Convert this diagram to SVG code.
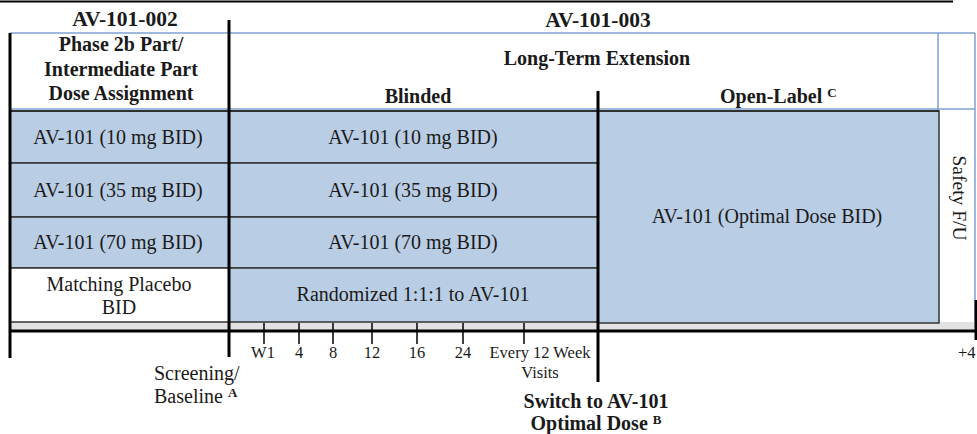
<svg xmlns="http://www.w3.org/2000/svg" width="977" height="434" viewBox="0 0 977 434">
<style>
text{font-family:"Liberation Serif","Times New Roman",serif;fill:#1a1a1a}
.b{font-weight:bold}
.c{text-anchor:middle}
.cell{fill:#b9cde4;stroke:#333;stroke-width:1.5}
.wcell{fill:#fff;stroke:#333;stroke-width:1.5}
.blue{stroke:#7fa2d0;stroke-width:1.5;fill:none}
.thick{stroke:#000;stroke-width:3}
.tick{stroke:#000;stroke-width:1.5}
.sup{font-size:13px}
.row{font-size:20px}
.hd{font-size:20px}
.ax{font-size:16.5px}
</style>
<rect width="977" height="434" fill="#fff"/>

<g id="headers">
  <line x1="0" y1="1.5" x2="953" y2="1.5" stroke="#000" stroke-width="2"/>
  <text class="b c" x="125" y="26" font-size="21.5">AV-101-002</text>
  <text class="b c" x="598" y="27" font-size="21.5">AV-101-003</text>
</g>

<g id="header-frame">
  <line class="blue" x1="10" y1="33" x2="975" y2="33"/>
  <line class="blue" x1="938" y1="33" x2="938" y2="330"/>
  <line class="blue" x1="975" y1="33" x2="975" y2="330"/>
  <line class="blue" x1="10" y1="109" x2="975" y2="109"/>
</g>

<g id="phase-header">
  <text class="b c hd" x="121" y="51">Phase 2b Part/</text>
  <text class="b c hd" x="121" y="76">Intermediate Part</text>
  <text class="b c hd" x="121" y="100">Dose Assignment</text>
</g>
<g id="lte-header">
  <text class="b c hd" x="597" y="65">Long-Term Extension</text>
</g>
<g id="blinded-header">
  <text class="b c hd" x="418" y="103">Blinded</text>
</g>
<g id="openlabel-header">
  <text class="b hd" x="720" y="103">Open-Label <tspan class="sup" dy="-6">C</tspan></text>
</g>

<g id="shadow">
  <rect x="10" y="322" width="965" height="8" fill="#e2e2e2"/>
</g>

<g id="p10"><rect class="cell" x="10" y="111" width="219" height="52"/><text class="c row" x="118" y="144">AV-101 (10 mg BID)</text></g>
<g id="p35"><rect class="cell" x="10" y="163" width="219" height="54"/><text class="c row" x="118" y="197">AV-101 (35 mg BID)</text></g>
<g id="p70"><rect class="cell" x="10" y="217" width="219" height="51"/><text class="c row" x="118" y="249">AV-101 (70 mg BID)</text></g>
<g id="pplacebo"><rect class="wcell" x="10" y="268" width="219" height="54"/><text class="c row" x="119" y="291">Matching Placebo</text><text class="c row" x="119" y="314">BID</text></g>

<g id="b10"><rect class="cell" x="229" y="111" width="369" height="52"/><text class="c row" x="413" y="144">AV-101 (10 mg BID)</text></g>
<g id="b35"><rect class="cell" x="229" y="163" width="369" height="54"/><text class="c row" x="413" y="197">AV-101 (35 mg BID)</text></g>
<g id="b70"><rect class="cell" x="229" y="217" width="369" height="51"/><text class="c row" x="413" y="249">AV-101 (70 mg BID)</text></g>
<g id="brand"><rect class="cell" x="229" y="268" width="369" height="54"/><text class="c row" x="413" y="301">Randomized 1:1:1 to AV-101</text></g>

<g id="optimal"><rect class="cell" x="598" y="111" width="341" height="212"/><text class="c row" x="767" y="223">AV-101 (Optimal Dose BID)</text></g>

<g id="safety"><text class="c" font-size="19.5" transform="translate(953 198) rotate(90)">Safety F/U</text></g>

<g id="lines">
  <line x1="10" y1="111" x2="939" y2="111" stroke="#222" stroke-width="1.5"/>
  <line class="thick" x1="10" y1="331" x2="977" y2="331"/>
  <line class="thick" x1="10" y1="33" x2="10" y2="358"/>
  <line class="thick" x1="229" y1="20" x2="229" y2="357"/>
  <line class="thick" x1="598" y1="91" x2="598" y2="382"/>
  <line class="thick" x1="976" y1="300" x2="976" y2="340"/>
  <line class="tick" x1="264" y1="323" x2="264" y2="344"/>
  <line class="tick" x1="299" y1="323" x2="299" y2="344"/>
  <line class="tick" x1="333" y1="323" x2="333" y2="344"/>
  <line class="tick" x1="372" y1="323" x2="372" y2="344"/>
  <line class="tick" x1="417" y1="323" x2="417" y2="344"/>
  <line class="tick" x1="463" y1="323" x2="463" y2="344"/>
  <line class="tick" x1="524" y1="323" x2="524" y2="344"/>
</g>

<g id="axis-labels">
  <text class="c ax" x="263" y="358">W1</text>
  <text class="c ax" x="299" y="358">4</text>
  <text class="c ax" x="333" y="358">8</text>
  <text class="c ax" x="372" y="358">12</text>
  <text class="c ax" x="417" y="358">16</text>
  <text class="c ax" x="463" y="358">24</text>
  <text class="c ax" x="540" y="358">Every 12 Week</text>
  <text class="c ax" x="540" y="378">Visits</text>
  <text class="ax" x="958" y="358">+4</text>
</g>

<g id="screening">
  <text x="154" y="380" font-size="20">Screening/</text>
  <text x="154" y="403" font-size="20">Baseline <tspan class="sup b" dy="-6">A</tspan></text>
</g>
<g id="switch">
  <text class="b c hd" x="596" y="408">Switch to AV-101</text>
  <text class="b c hd" x="596" y="430">Optimal Dose <tspan class="sup" dy="-6">B</tspan></text>
</g>
</svg>
